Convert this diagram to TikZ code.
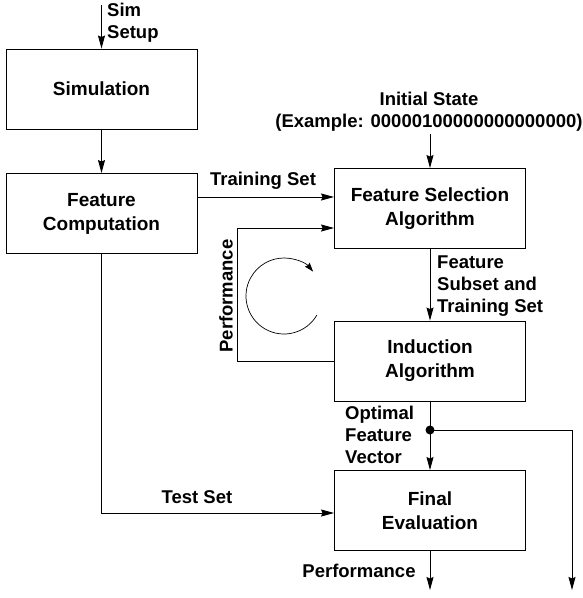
\documentclass[tikz,border=0pt]{standalone}
\usepackage{fontspec}
\setmainfont{Liberation Sans}
\usetikzlibrary{arrows.meta,calc}
\begin{document}
\begin{tikzpicture}[x=1pt,y=1pt,
  every node/.style={font=\bfseries\fontsize{18.5}{22}\selectfont},
  box/.style={draw,line width=0.9pt,minimum width=191pt,minimum height=80pt,align=center,inner sep=0pt,font=\bfseries\fontsize{19}{24}\selectfont},
  lbl/.style={inner sep=0pt,align=left},
  arr/.style={line width=0.9pt,-{Stealth[length=13pt,width=7pt,inset=1.5pt]}},
  circarr/.style={line width=0.7pt,-{Stealth[length=9pt,width=6pt,inset=1pt]}}]
\useasboundingbox (0,0) rectangle (582,-598);
% boxes
\node[box] (sim) at (101.5,-89) {Simulation};
\node[box] (fc) at (101.5,-213.5) {Feature\\Computation};
\node[box] (fs) at (430,-208.5) {Feature Selection\\Algorithm};
\node[box] (ia) at (430,-361) {Induction\\Algorithm};
\node[box] (fe) at (430,-510.5) {Final\\Evaluation};
% helper coordinates
\coordinate (ss) at (101.5,-5);
\coordinate (tr) at (0,-197);
\coordinate (fbt) at (237,-228);
\coordinate (ts) at (0,-513);
\coordinate (j) at (430,-430);
\coordinate (outR) at (572,-590);
\coordinate (outF) at (430,-590);
% top input
\draw[arr] (ss) -- (sim.north);
\node[lbl,anchor=west] (sslab) at (107,-23) {Sim\\Setup};
\draw[arr] (sim) -- (fc);
% initial state
\node[align=center,inner sep=2pt] (is) at (429,-112) {Initial State\\(Example: 00000100000000000000)};
\draw[arr] (is.south -| fs.north) -- (fs.north);
% training set
\draw[arr] (fc.east |- tr) -- (fs.west |- tr);
\node (trlab) at (263,-181) {Training Set};
% fs to ia
\draw[arr] (fs) -- (ia);
\node[lbl,anchor=west] (fslab) at (437,-286) {Feature\\Subset and\\Training Set};
% feedback
\draw[arr] (ia.west) -| (fbt) -- (fs.west |- fbt);
\node[rotate=90] (perf1) at (226,-296) {Performance};
\draw[circarr] (316.9,-315) arc[start angle=-30,end angle=-320,radius=38];
% ia to fe
\draw[arr] (ia) -- (fe);
\fill (j) circle (4.5pt);
\draw[arr] (j) -| (outR);
\node[lbl,anchor=west] (oplab) at (345,-435) {Optimal\\Feature\\Vector};
% test set
\draw[arr] (fc.south) |- (fe.west |- ts);
\node (tslab) at (197,-497) {Test Set};
% output
\draw[arr] (fe.south) -- (outF);
\node (perf2) at (359,-571) {Performance};
\end{tikzpicture}
\end{document}
